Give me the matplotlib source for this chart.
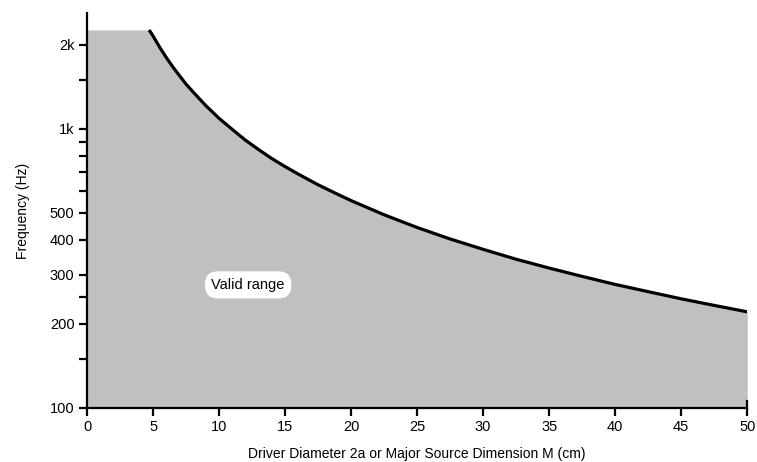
import matplotlib
matplotlib.use("Agg")
import matplotlib.pyplot as plt
from matplotlib.ticker import FixedLocator, NullFormatter, NullLocator

plt.rcParams['font.family'] = ['Liberation Sans', 'DejaVu Sans']

# Upper frequency limit of the valid range vs. driver diameter
diameter_cm = [4.7, 5.0, 5.5, 6.0, 6.5, 7.0, 7.5, 8.0, 9.0, 10.0, 11.0, 12.0,
               13.0, 14.0, 15.0, 16.0, 17.5, 19.0, 20.0, 22.5, 25.0, 27.5,
               30.0, 32.5, 35.0, 37.5, 40.0, 42.5, 45.0, 47.5, 50.0]
freq_hz = [2260, 2150, 1960, 1800, 1665, 1550, 1445, 1360, 1210, 1090, 995, 910,
           842, 782, 732, 688, 630, 582, 553, 492, 443, 403,
           370, 341, 317, 296, 277, 261, 246, 233, 221]

ceiling_hz = 2260
floor_hz = 100

y_major = [100, 200, 300, 400, 500, 1000, 2000]
y_major_labels = ['100', '200', '300', '400', '500', '1k', '2k']
y_minor = [150, 250, 600, 700, 800, 900, 1500]
x_ticks = [0, 5, 10, 15, 20, 25, 30, 35, 40, 45, 50]

fig = plt.figure(figsize=(7.57, 4.62), dpi=100)
ax = fig.add_axes([0.115, 0.117, 0.872, 0.855])

# Shaded region: flat ceiling up to where the curve starts, then under the curve
fill_x = [0.0] + diameter_cm
fill_top = [ceiling_hz] + freq_hz
ax.fill_between(fill_x, floor_hz, fill_top, color='#c0c0c0', lw=0, zorder=1)
ax.plot(diameter_cm, freq_hz, color='black', lw=2.3, solid_capstyle='butt',
        solid_joinstyle='round', zorder=3)

ax.set_yscale('log')
ax.set_xlim(0, 50)
ax.set_ylim(floor_hz, 2600)

ax.yaxis.set_major_locator(FixedLocator(y_major))
ax.set_yticklabels(y_major_labels)
ax.yaxis.set_minor_locator(FixedLocator(y_minor))
ax.yaxis.set_minor_formatter(NullFormatter())
ax.set_xticks(x_ticks)
ax.set_xticklabels([str(t) for t in x_ticks])

for side in ('top', 'right'):
    ax.spines[side].set_visible(False)
for side in ('left', 'bottom'):
    ax.spines[side].set_linewidth(1.6)

ax.tick_params(axis='both', which='major', direction='out', length=6, width=1.6,
               labelsize=10.5, pad=3)
ax.tick_params(axis='y', which='minor', direction='out', length=6, width=1.6)
ax.xaxis.set_minor_locator(NullLocator())

# short upward mark at the right end of the x axis
ax.plot([50, 50], [floor_hz, 106], color='black', lw=1.6, clip_on=False, zorder=4)

ax.text(12.2, 276, 'Valid range', ha='center', va='center', fontsize=10.5,
        bbox=dict(boxstyle='round,pad=0.45,rounding_size=0.9', fc='white', ec='none'),
        zorder=5)

ax.set_xlabel('Driver Diameter 2a or Major Source Dimension M (cm)', fontsize=10, labelpad=9)
ax.set_ylabel('Frequency (Hz)', fontsize=10, labelpad=14)

fig.savefig('out.png', dpi=100, facecolor='white')
